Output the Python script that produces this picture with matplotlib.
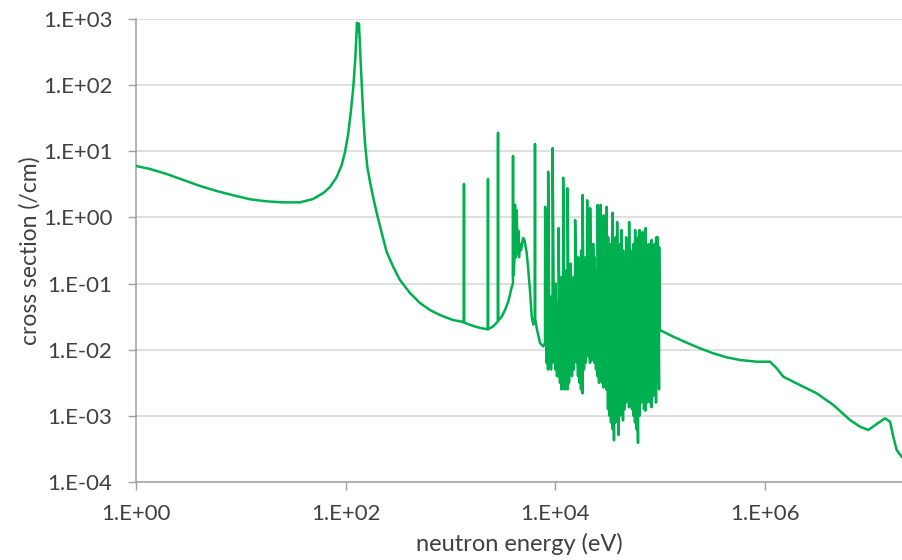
import numpy as np
import matplotlib
matplotlib.use("Agg")
import matplotlib.pyplot as plt
from matplotlib.ticker import FixedLocator, FuncFormatter, NullLocator

plt.rcParams['font.family'] = ['Lato', 'DejaVu Sans']

# ---------------- data ----------------
# low-energy part, incl. the big resonance and isolated narrow resonances (eV, 1/cm)
low_energy = [1.0, 1.36, 1.96, 2.83, 4.08, 5.89, 8.49, 12.3, 17.7, 25.5, 36.8,
              49.0, 61.4, 71.1, 82.4, 92.0, 98.9, 106.4, 112.9, 118.7, 124.1,
              128.8, 131.6, 134.5, 139.0, 147.9, 153.6, 161.5, 171.4, 184.2, 198.6,
              221.6, 247.3, 285.9, 331.1, 412.6, 514.2, 640.8, 798.5, 1062, 1324,
              1349, 1352, 1355, 1413, 1722, 2055,
              2286, 2291, 2296, 2559, 2734,
              2851, 2857, 2863, 2985, 3098, 3335, 3584, 3862,
              3965, 3973, 3981, 4087, 4151, 4218, 4310, 4385, 4465, 4530, 4634, 4733,
              4955, 5117, 5370, 5560, 5770, 5994, 6207,
              6430, 6440, 6450, 6735, 7200, 7700]
low_sigma = [6.0, 5.40, 4.54, 3.68, 2.99, 2.51, 2.16, 1.88, 1.75, 1.69, 1.69,
             1.90, 2.34, 2.88, 4.08, 6.21, 9.76, 18.9, 42.1, 93.8, 257,
             880, 650, 850, 257, 33.0, 13.3, 5.78, 3.43, 1.97, 1.17,
             0.581, 0.300, 0.178, 0.113, 0.072, 0.0508, 0.0398, 0.0334, 0.0281, 0.0263,
             0.026, 3.2, 0.026, 0.025, 0.0224, 0.0209,
             0.0204, 3.8, 0.0204, 0.0224, 0.025,
             0.027, 19.0, 0.028, 0.0295, 0.0316, 0.040, 0.0537, 0.089,
             0.10, 8.5, 0.13, 0.204, 1.55, 0.25, 1.29, 0.28, 0.63, 0.25, 0.40, 0.32,
             0.49, 0.45, 0.29, 0.158, 0.079, 0.0316, 0.024,
             0.03, 12.9, 0.03, 0.020, 0.0126, 0.0112]

# dense resonance region: energy, peak and trough (log10 of 1/cm)
res_energy = [8027, 8297, 8576, 8864, 9160, 9465, 9784, 10110, 10450, 10800,
              11160, 11540, 11930, 12320, 12740, 13160, 13610, 14060, 14530, 15020,
              15520, 16050, 16580, 17140, 17710, 18300, 18920, 19550, 20210, 20880,
              21580, 22310, 23060, 23830, 24630, 25450, 26300, 27190, 28100, 29040,
              30010, 31010, 32060, 33130, 34240, 35390, 36570, 37800, 39070, 40370,
              41730, 43120, 44570, 46060, 47610, 49200, 50850, 52560, 54320, 56140,
              58020, 59970, 61980, 64060, 66210, 68430, 70720, 73110, 75560, 78090,
              80710, 83410, 86220, 89110, 92090, 95170, 98360]
res_peak_log = [0.16, -1.3, 0.69, -1.4, -1.2, 1.05, -1.5, -1.0, -1.3, -0.16,
                -1.2, -0.9, 0.6, -1.1, -0.8, 0.44, -1.0, -0.7, -1.2, -0.9,
                -0.04, -0.9, -0.6, -1.0, -0.5, 0.34, -0.9, -0.6, 0.26, -0.7,
                0.14, -0.9, -0.4, -0.6, -0.8, 0.19, -0.5, 0.19, -0.4, 0.03,
                -0.5, 0.16, -0.3, -0.6, -0.4, 0.07, -0.5, -0.3, -0.07, -0.6,
                -0.4, -0.19, -0.5, -0.7, -0.3, -0.6, -0.07, -0.5, -0.8, -0.4,
                -0.19, -0.6, -0.3, -0.19, -0.5, -0.22, -0.6, -0.16, -0.5, -0.4,
                -0.6, -0.34, -0.5, -0.4, -0.3, -0.30, -0.45]
res_trough_log = [-1.9, -2.2, -2.3, -2.1, -2.3, -2.2, -2.0, -2.3, -2.4, -2.4,
                  -2.5, -2.6, -2.5, -2.6, -2.4, -2.6, -2.5, -2.2, -2.4, -2.3,
                  -2.0, -2.2, -2.4, -2.5, -2.6, -2.66, -2.3, -2.2, -2.0, -2.1,
                  -2.2, -2.16, -1.9, -2.2, -2.3, -2.4, -2.5, -2.45, -2.5, -2.57,
                  -2.4, -2.6, -2.9, -3.0, -3.1, -3.2, -3.37, -3.1, -3.0, -3.29,
                  -3.0, -2.8, -3.07, -2.9, -2.8, -2.7, -2.87, -2.7, -2.9, -3.0,
                  -3.1, -3.2, -3.41, -3.0, -2.8, -2.7, -2.9, -2.92, -2.8, -2.7,
                  -2.8, -2.87, -2.7, -2.6, -2.8, -2.5, -2.6]

# fast-neutron tail
high_energy = [1.0e5, 1.347e5, 1.807e5, 2.42e5, 3.24e5, 4.35e5, 5.83e5, 8.41e5,
               1.129e6, 1.307e6, 1.511e6, 2.18e6, 3.15e6, 4.54e6, 6.55e6, 8.16e6,
               9.80e6, 1.178e7, 1.413e7, 1.578e7, 1.695e7, 1.827e7, 2.04e7]
high_sigma = [0.01986, 0.01573, 0.01277, 0.0105, 0.00883, 0.00767, 0.00699, 0.00659,
              0.00659, 0.00524, 0.00391, 0.00292, 0.00219, 0.00146, 0.000865, 0.000685,
              0.000611, 0.000753, 0.000918, 0.000816, 0.000484, 0.000304, 0.000241]

x_ticks = [1e0, 1e2, 1e4, 1e6]
y_ticks = [1e-4, 1e-3, 1e-2, 1e-1, 1e0, 1e1, 1e2, 1e3]

# ---------------- build the series ----------------
res_E = []
res_S = []
for e, pk, tr in zip(res_energy, res_peak_log, res_trough_log):
    res_E += [e, e * 1.003]
    res_S += [10 ** tr, 10 ** pk]

energy = np.array(low_energy + res_E + high_energy, dtype=float)
sigma = np.array(low_sigma + res_S + high_sigma, dtype=float)

# ---------------- plot ----------------
fig = plt.figure(figsize=(9.03, 5.60), dpi=100)
W, H = 903, 560
ax = fig.add_axes([136 / W, (H - 482) / H, (W - 136) / W, (482 - 19) / H])

ax.plot(energy, sigma, color='#00B050', lw=1.8, solid_joinstyle='round', zorder=3)

ax.set_xscale('log')
ax.set_yscale('log')
ax.set_xlim(1, 10 ** 7.322)
ax.set_ylim(1e-4, 1e3)

ax.xaxis.set_major_locator(FixedLocator(x_ticks))
ax.yaxis.set_major_locator(FixedLocator(y_ticks))
ax.xaxis.set_minor_locator(NullLocator())
ax.yaxis.set_minor_locator(NullLocator())

def fmt(v, pos):
    e = int(round(np.log10(v)))
    return "1.E%+03d" % e

ax.xaxis.set_major_formatter(FuncFormatter(fmt))
ax.yaxis.set_major_formatter(FuncFormatter(fmt))

ax.grid(axis='y', color='#d9d9d9', lw=1.2, zorder=0)
ax.grid(axis='x', visible=False)

for s in ['top', 'right']:
    ax.spines[s].set_visible(False)
for s in ['left', 'bottom']:
    ax.spines[s].set_color('#a0a0a0')
    ax.spines[s].set_linewidth(1.1)

ax.tick_params(axis='both', which='major', direction='out', length=6, width=1.0,
               color='#a0a0a0', labelsize=16, labelcolor='#404040')
ax.tick_params(axis='y', pad=11)
ax.tick_params(axis='x', pad=10)

ax.set_xlabel('neutron energy (eV)', fontsize=17, color='#404040', labelpad=6)
ax.set_ylabel('cross section (/cm)', fontsize=16.5, color='#404040', labelpad=2)

fig.savefig('out.png', dpi=100)
